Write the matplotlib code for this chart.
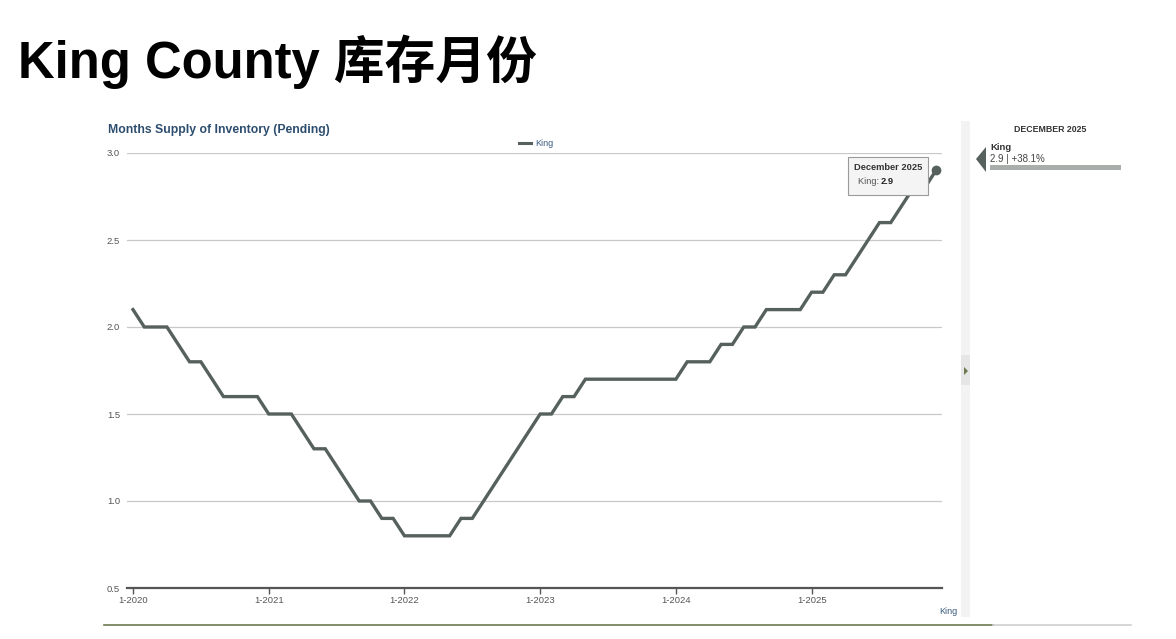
import matplotlib
matplotlib.use("Agg")
import matplotlib.pyplot as plt
from matplotlib.patches import Rectangle, Polygon
from matplotlib.lines import Line2D

# months supply of inventory (pending), King County, Jan 2020 - Dec 2025
years = [2020, 2021, 2022, 2023, 2024, 2025]
supply_2020 = [2.1, 2.0, 2.0, 2.0, 1.9, 1.8, 1.8, 1.7, 1.6, 1.6, 1.6, 1.6]
supply_2021 = [1.5, 1.5, 1.5, 1.4, 1.3, 1.3, 1.2, 1.1, 1.0, 1.0, 0.9, 0.9]
supply_2022 = [0.8, 0.8, 0.8, 0.8, 0.8, 0.9, 0.9, 1.0, 1.1, 1.2, 1.3, 1.4]
supply_2023 = [1.5, 1.5, 1.6, 1.6, 1.7, 1.7, 1.7, 1.7, 1.7, 1.7, 1.7, 1.7]
supply_2024 = [1.7, 1.8, 1.8, 1.8, 1.9, 1.9, 2.0, 2.0, 2.1, 2.1, 2.1, 2.1]
supply_2025 = [2.2, 2.2, 2.3, 2.3, 2.4, 2.5, 2.6, 2.6, 2.7, 2.8, 2.8, 2.9]
king = supply_2020 + supply_2021 + supply_2022 + supply_2023 + supply_2024 + supply_2025
months = list(range(len(king)))
tick_pos = [12 * i for i in range(len(years))]
tick_labels = ["1-%d" % y for y in years]
y_ticks = [0.5, 1.0, 1.5, 2.0, 2.5, 3.0]

last = king[-1]
yoy = (king[-1] / king[-13] - 1) * 100

W, H = 1176, 639
LINE = "#56615d"
BLUE = "#2d4d6e"
GREY_TXT = "#555555"

fig = plt.figure(figsize=(W / 100, H / 100), dpi=100)
fig.patch.set_facecolor("white")


def fx(px):
    return px / W


def fy(py):
    return 1 - py / H


sans = ["Liberation Sans", "DejaVu Sans"]

fig.text(fx(18), fy(78), "King County 库存月份", fontsize=36.5, fontweight="bold",
         family=["Liberation Sans", "Noto Sans CJK SC"], color="black", va="baseline")

ax = fig.add_axes([fx(127), fy(588), fx(942 - 127), (588 - 153) / H])
ax.plot(months, king, color=LINE, lw=2.4, solid_joinstyle="miter", zorder=3)
ax.plot(months[-1], king[-1], "o", color=LINE, ms=6, zorder=4)
ax.set_xlim(-0.53, len(king) - 0.47)
ax.set_ylim(0.5, 3.0)
ax.set_yticks(y_ticks)
ax.set_yticklabels(["%.1f" % v for v in y_ticks], family=sans, fontsize=6.8, color=GREY_TXT)
ax.set_xticks(tick_pos)
ax.set_xticklabels(tick_labels, family=sans, fontsize=6.8, color=GREY_TXT)
ax.tick_params(axis="y", length=0, pad=5)
ax.tick_params(axis="x", length=4, width=1, color=GREY_TXT, pad=2)
ax.grid(axis="y", color="#c8c8c8", lw=0.9)
ax.set_axisbelow(True)
for s in ["top", "right", "left"]:
    ax.spines[s].set_visible(False)
ax.spines["bottom"].set_color("#555555")
ax.spines["bottom"].set_linewidth(1.6)

# chart heading and legend
fig.text(fx(108), fy(133), "Months Supply of Inventory (Pending)", fontsize=8.8,
         fontweight="bold", color=BLUE, family=sans)
fig.add_artist(Line2D([fx(519), fx(531)], [fy(143), fy(143)], color=LINE, lw=2.2))
fig.text(fx(535), fy(143), "King", fontsize=6.5, color="#3a5a80", family=sans, va="center")
fig.text(fx(948), fy(612), "King", fontsize=6.5, color="#3a5a80", family=sans, va="center",
         ha="center")

# tooltip
fig.add_artist(Rectangle((fx(848), fy(195)), fx(80), (195 - 157) / H,
                         facecolor="#f4f4f4", edgecolor="#9a9a9a", lw=0.8, zorder=5))
fig.text(fx(854), fy(168), "December 2025", fontsize=6.7, fontweight="bold",
         color="#333333", family=sans, va="center", zorder=6)
fig.text(fx(858), fy(181), "King: ", fontsize=6.7, color=GREY_TXT, family=sans,
         va="center", zorder=6)
fig.text(fx(881), fy(181), "%.1f" % last, fontsize=6.7, fontweight="bold",
         color="#222222", family=sans, va="center", zorder=6)

# right side panel
fig.add_artist(Rectangle((fx(961), fy(617)), fx(9), (617 - 121) / H,
                         facecolor="#f3f3f3", edgecolor="none"))
fig.add_artist(Rectangle((fx(961), fy(385)), fx(9), 30 / H,
                         facecolor="#e6e6e6", edgecolor="none"))
fig.add_artist(Polygon([[fx(964), fy(367)], [fx(964), fy(375)], [fx(968), fy(371)]],
                       closed=True, facecolor="#6b7a4f", edgecolor="none"))
fig.text(fx(1050), fy(129), "DECEMBER 2025", fontsize=6.3, fontweight="bold",
         color="#333333", family=sans, ha="center", va="center")
fig.add_artist(Polygon([[fx(976), fy(159)], [fx(986), fy(147)], [fx(986), fy(172)]],
                       closed=True, facecolor=LINE, edgecolor="none"))
fig.text(fx(990), fy(148), "King", fontsize=6.8, fontweight="bold", color="#333333",
         family=sans, va="center")
fig.text(fx(990), fy(159), "%.1f | +%.1f%%" % (last, yoy), fontsize=7, color="#444444",
         family=sans, va="center")
fig.add_artist(Rectangle((fx(990), fy(170)), fx(131), 5 / H,
                         facecolor="#a9aeab", edgecolor="none"))

# bottom rule
fig.add_artist(Line2D([fx(104), fx(993)], [fy(625), fy(625)], color="#6b7a4f", lw=1.2))
fig.add_artist(Line2D([fx(993), fx(1131)], [fy(625), fy(625)], color="#cfcfcf", lw=1.2))

fig.savefig("out.png", dpi=100, facecolor="white")
